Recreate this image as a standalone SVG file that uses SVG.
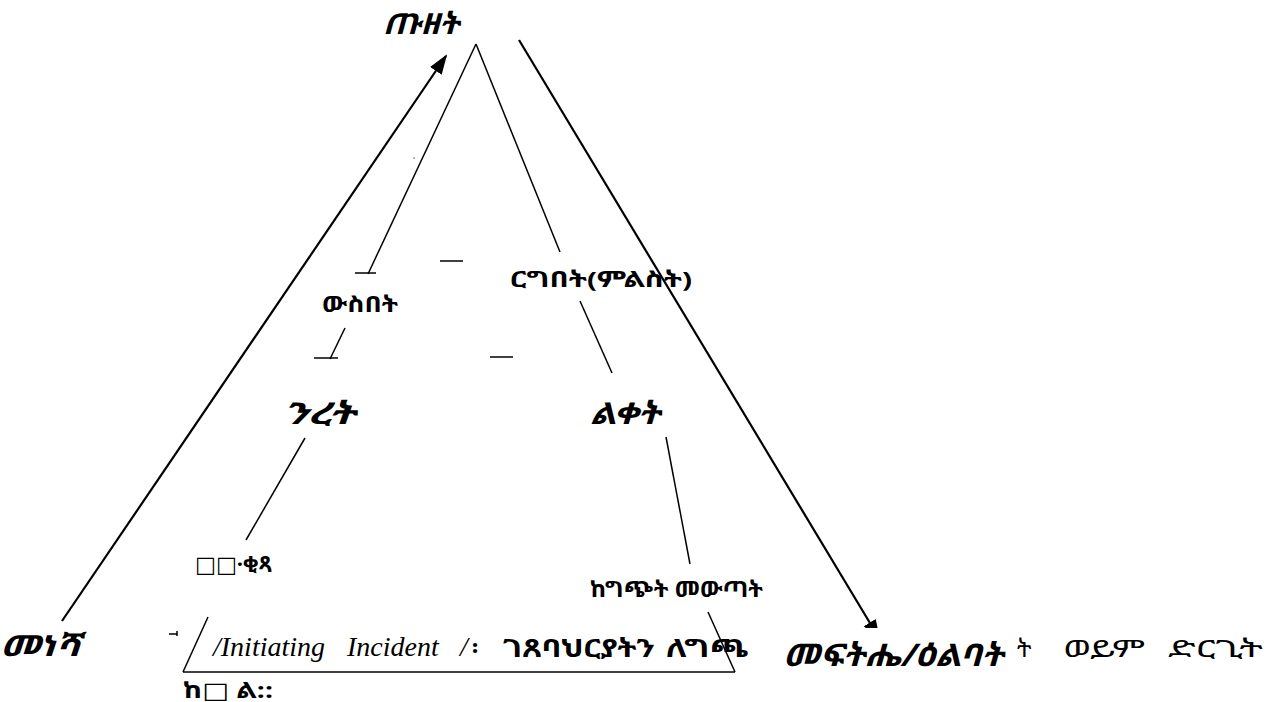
<svg xmlns="http://www.w3.org/2000/svg" width="1280" height="702" viewBox="0 0 1280 702">
<style>
.ln{stroke:#000;stroke-width:1.5;fill:none}
.ar{stroke:#000;stroke-width:2.2;fill:none}
.lbl{font-family:"Noto Sans Ethiopic","Abyssinica SIL","DejaVu Sans","Noto Sans",sans-serif;fill:#000}
.bi{font-weight:bold;font-style:italic}
.b{font-weight:bold}
.en{font-family:"Liberation Serif","Times New Roman",serif;font-style:italic;font-size:28px;fill:#000}
</style>
<defs>
<marker id="ah2" viewBox="0 0 10 10" refX="9" refY="5" markerWidth="20" markerHeight="20" markerUnits="userSpaceOnUse" orient="auto"><path d="M0,1.5 L10,5 L0,8.5 z" fill="#000"/></marker>
</defs>
<rect width="1280" height="702" fill="#fff"/>
<g id="connectors">
<line class="ar" x1="62" y1="621" x2="446" y2="56" marker-end="url(#ah2)"/>
<line class="ar" x1="519" y1="40" x2="879" y2="638" marker-end="url(#ah2)"/>
<line class="ln" x1="476" y1="44" x2="368" y2="274"/>
<line class="ln" x1="476" y1="44" x2="560" y2="252"/>
<line class="ln" x1="355" y1="273" x2="376" y2="273"/>
<line class="ln" x1="440" y1="261" x2="463" y2="261"/>
<line class="ln" x1="345" y1="328" x2="330" y2="359"/>
<line class="ln" x1="314" y1="358" x2="338" y2="358"/>
<line class="ln" x1="490" y1="357" x2="513" y2="357"/>
<line class="ln" x1="580" y1="301" x2="612" y2="373"/>
<line class="ln" x1="305" y1="438" x2="246" y2="540"/>
<line class="ln" x1="666" y1="437" x2="690" y2="564"/>
<line class="ln" x1="208" y1="617" x2="183" y2="672"/>
<line class="ln" x1="183" y1="672" x2="735" y2="672"/>
<line class="ln" x1="708" y1="612" x2="735" y2="672"/>
<path class="ln" d="M169,634 H177 M177,631 V636"/>
<circle cx="414" cy="158" r="0.8" fill="#555"/>
</g>
<g id="text-line">
<text class="en" x="213" y="656">/Initiating</text>
<text class="en" x="347" y="656">Incident</text>
<text class="en" x="460" y="656">/</text>
<text class="lbl b" x="472" y="656" font-size="23">፡</text>
<text class="lbl b" x="503" y="657" font-size="25" textLength="152" lengthAdjust="spacingAndGlyphs">ገጸባህርያትን</text>
<text class="lbl b" x="666" y="657" font-size="25" textLength="82" lengthAdjust="spacingAndGlyphs">ለግጫ</text>
<rect x="748" y="628" width="267" height="46" fill="#fff"/>
<text class="lbl" x="1017" y="657" font-size="24">ት</text>
<text class="lbl" x="1063" y="657" font-size="24" textLength="82" lengthAdjust="spacingAndGlyphs">ወይም</text>
<text class="lbl" x="1168" y="657" font-size="24" textLength="95" lengthAdjust="spacingAndGlyphs">ድርጊት</text>
<text class="lbl b" x="183" y="698" font-size="22" textLength="90" lengthAdjust="spacingAndGlyphs">ከ□ ል::</text>
</g>
<g id="node-tuzet"><text class="lbl bi" x="383" y="34" font-size="29" textLength="76" lengthAdjust="spacingAndGlyphs">ጡዘት</text></g>
<g id="node-wusbet"><text class="lbl b" x="322" y="312" font-size="22" textLength="76" lengthAdjust="spacingAndGlyphs">ውስበት</text></g>
<g id="node-rgbet"><text class="lbl b" x="510" y="287" font-size="22" textLength="182" lengthAdjust="spacingAndGlyphs">ርግበት(ምልስት)</text></g>
<g id="node-nret"><text class="lbl bi" x="283" y="424" font-size="30" textLength="72" lengthAdjust="spacingAndGlyphs">ንረት</text></g>
<g id="node-lqet"><text class="lbl bi" x="590" y="424" font-size="30" textLength="70" lengthAdjust="spacingAndGlyphs">ልቀት</text></g>
<g id="node-qitsa"><text class="lbl b" x="195" y="572" font-size="22" textLength="77" lengthAdjust="spacingAndGlyphs">□□·ቂጻ</text></g>
<g id="node-mewtat"><text class="lbl b" x="590" y="597" font-size="22" textLength="173" lengthAdjust="spacingAndGlyphs">ከግጭት መውጣት</text></g>
<g id="node-menesha"><text class="lbl bi" x="0" y="656" font-size="29" textLength="80" lengthAdjust="spacingAndGlyphs">መነሻ</text></g>
<g id="node-mefthe"><text class="lbl bi" x="783" y="666" font-size="31" textLength="220" lengthAdjust="spacingAndGlyphs">መፍትሔ/ዕልባት</text></g>
</svg>
